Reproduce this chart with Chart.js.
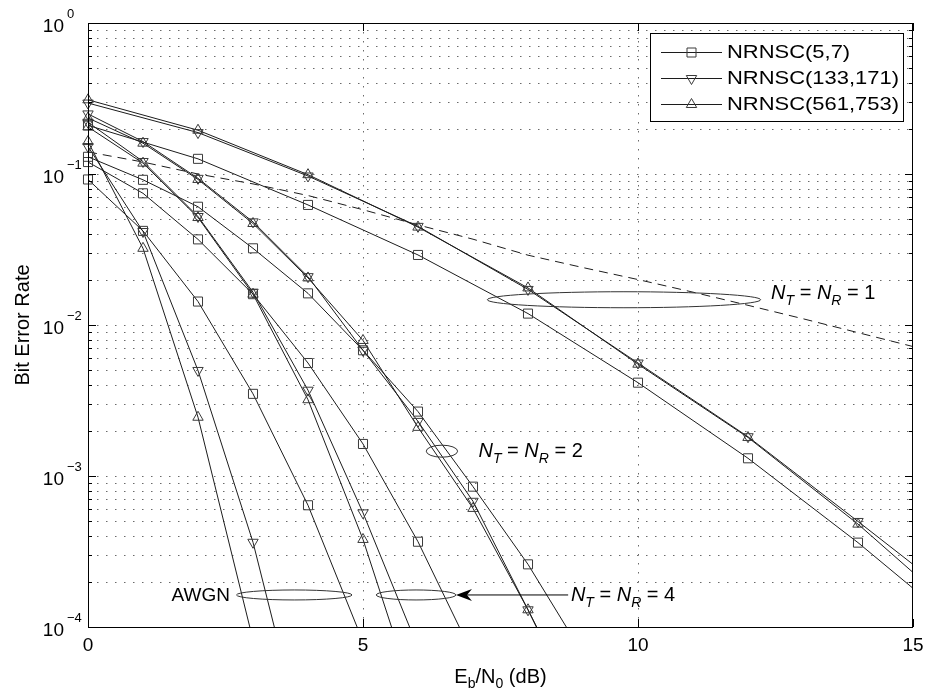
<!DOCTYPE html>
<html>
<head>
<meta charset="utf-8">
<title>BER vs Eb/N0</title>
<script src="https://cdn.jsdelivr.net/npm/chart.js@4.4.1/dist/chart.umd.min.js"></script>
<style>
  html, body { margin: 0; padding: 0; background: #ffffff; }
  canvas { display: block; }
</style>
</head>
<body>
<canvas id="berChart" width="930" height="696"></canvas>
<script>
// Eb/N0 points (dB)
const snrEven = [0, 2, 4, 6, 8, 10, 12, 14, 16];
const snrStep = [0, 1, 2, 3, 4, 5, 6, 7, 8, 9];
const snrDash = [0, 1, 2, 3, 4, 5, 6, 7, 8, 9, 10, 11, 12, 13, 14, 15];

const codeNames = ["NRNSC(5,7)", "NRNSC(133,171)", "NRNSC(561,753)"];

// NT = NR = 1
const ber1_57 = [0.21, 0.126, 0.0624, 0.0291, 0.0119, 0.00415, 0.00131, 0.000362, 0.00009];
const ber1_133 = [0.295, 0.188, 0.097, 0.045, 0.0172, 0.0056, 0.00182, 0.0005, 0.000135];
const ber1_561 = [0.31, 0.195, 0.099, 0.0445, 0.0176, 0.0055, 0.0018, 0.00048, 0.00011];

// NT = NR = 2
const ber2_57 = [0.13, 0.0915, 0.0607, 0.0322, 0.0162, 0.0068, 0.00267, 0.00085, 0.00026, 0.000066];
const ber2_133 = [0.25, 0.164, 0.0936, 0.0482, 0.0209, 0.0068, 0.0023, 0.00068, 0.00013, 0.000023];
const ber2_561 = [0.235, 0.16, 0.092, 0.047, 0.0205, 0.0079, 0.0021, 0.00061, 0.00013, 0.000025];

// NT = NR = 4
const ber4_57 = [0.12, 0.0745, 0.0369, 0.016, 0.0056, 0.00163, 0.000367, 0.000065];
const ber4_133 = [0.22, 0.121, 0.0523, 0.0165, 0.0037, 0.00057, 0.000073];
const ber4_561 = [0.205, 0.118, 0.0515, 0.016, 0.0032, 0.00038, 0.000029];

// AWGN
const berAwgn_57 = [0.092, 0.042, 0.0143, 0.0035, 0.00064, 0.00008];
const berAwgn_133 = [0.152, 0.0416, 0.005, 0.000364, 0.000013];
const berAwgn_561 = [0.164, 0.0322, 0.00245, 0.000082];

// uncoded reference (dashed)
const berUncoded = [0.14, 0.12, 0.1, 0.086, 0.072, 0.058, 0.046, 0.037, 0.029, 0.024, 0.02, 0.0165, 0.0135, 0.011, 0.0089, 0.0072];

const yExponents = [0, -1, -2, -3, -4];
const xTicks = [0, 5, 10, 15];

const FONT = '"Liberation Sans", Arial, Helvetica, sans-serif';
const lineInk = "#1c1c1c";
const markInk = "#3a3a3a";

function curve(xs, ys, marker) {
  return {
    data: ys.map((y, i) => ({ x: xs[i], y: y })),
    showLine: true,
    borderColor: lineInk,
    borderWidth: 1,
    pointStyle: marker === "square" ? "rect" : "triangle",
    pointRotation: marker === "down" ? 180 : 0,
    pointRadius: marker === "square" ? 6.4 : 6,
    pointBorderColor: markInk,
    pointBorderWidth: 1,
    pointBackgroundColor: "rgba(0,0,0,0)",
    clip: { left: 10, top: 10, right: 0, bottom: 0 },
  };
}

function setFont(ctx, size, italic) {
  ctx.font = (italic ? "italic " : "") + size + "px " + FONT;
}

// pieces: [text, size, italic, dy]
function drawRuns(ctx, parts, x, y, align) {
  let total = 0;
  parts.forEach((p) => {
    setFont(ctx, p[1], p[2]);
    total += ctx.measureText(p[0]).width;
  });
  let cx = align === "center" ? x - total / 2 : align === "right" ? x - total : x;
  ctx.textAlign = "left";
  ctx.textBaseline = "alphabetic";
  parts.forEach((p) => {
    setFont(ctx, p[1], p[2]);
    ctx.fillText(p[0], cx, y + (p[3] || 0));
    cx += ctx.measureText(p[0]).width;
  });
}

function ntLabel(n) {
  return [
    ["N", 20, true, 0],
    ["T", 14, true, 6],
    [" = ", 20, false, 0],
    ["N", 20, true, 0],
    ["R", 14, true, 6],
    [" = " + n, 20, false, 0],
  ];
}

function drawMarker(ctx, shape, x, y) {
  ctx.beginPath();
  if (shape === "square") {
    ctx.rect(x - 4.5, y - 4.5, 9, 9);
  } else {
    const s = shape === "up" ? 1 : -1;
    ctx.moveTo(x, y - 6 * s);
    ctx.lineTo(x + 5.2, y + 3 * s);
    ctx.lineTo(x - 5.2, y + 3 * s);
    ctx.closePath();
  }
  ctx.stroke();
}

const axesPlugin = {
  id: "matlabAxes",
  beforeDatasetsDraw(chart) {
    const { ctx, chartArea: a, scales } = chart;
    const xs = scales.x, ys = scales.y;
    ctx.save();
    ctx.strokeStyle = "#6a6a6a";
    ctx.lineWidth = 1;
    ctx.setLineDash([1.5, 7.5]);
    // horizontal grid at every decade and its minor steps
    for (let e = -4; e < 0; e++) {
      for (let m = 1; m <= 9; m++) {
        const v = m * Math.pow(10, e);
        if (e === -4 && m === 1) continue;
        const py = Math.round(ys.getPixelForValue(v)) + 0.5;
        ctx.beginPath();
        ctx.moveTo(a.left, py);
        ctx.lineTo(a.right, py);
        ctx.stroke();
      }
    }
    [5, 10].forEach((t) => {
      const px = Math.round(xs.getPixelForValue(t)) + 0.5;
      ctx.beginPath();
      ctx.moveTo(px, a.top);
      ctx.lineTo(px, a.bottom);
      ctx.stroke();
    });
    ctx.restore();
  },
  afterDatasetsDraw(chart) {
    const { ctx, chartArea: a, scales } = chart;
    const xs = scales.x, ys = scales.y;
    ctx.save();

    // box + inward ticks
    ctx.strokeStyle = "#000";
    ctx.lineWidth = 1;
    ctx.setLineDash([]);
    ctx.strokeRect(a.left + 0.5, a.top + 0.5, a.right - a.left - 1, a.bottom - a.top);
    for (let e = -4; e <= 0; e++) {
      for (let m = 1; m <= 9; m++) {
        const v = m * Math.pow(10, e);
        if (v > 1) break;
        const py = Math.round(ys.getPixelForValue(v)) + 0.5;
        const len = m === 1 ? 8 : 4;
        ctx.beginPath();
        ctx.moveTo(a.left, py);
        ctx.lineTo(a.left + len, py);
        ctx.moveTo(a.right, py);
        ctx.lineTo(a.right - len, py);
        ctx.stroke();
      }
    }
    xTicks.forEach((t) => {
      const px = Math.round(xs.getPixelForValue(t)) + 0.5;
      ctx.beginPath();
      ctx.moveTo(px, a.bottom);
      ctx.lineTo(px, a.bottom - 8);
      ctx.moveTo(px, a.top);
      ctx.lineTo(px, a.top + 8);
      ctx.stroke();
    });

    // tick labels
    ctx.fillStyle = "#000";
    yExponents.forEach((e) => {
      const py = ys.getPixelForValue(Math.pow(10, e));
      setFont(ctx, 19, false);
      ctx.textAlign = "right";
      ctx.textBaseline = "alphabetic";
      ctx.fillText("10", 64, py + 9);
      setFont(ctx, 13, false);
      ctx.textAlign = "left";
      ctx.fillText(e === 0 ? "0" : "\u2212" + Math.abs(e), 67, py - 5);
    });
    setFont(ctx, 19, false);
    ctx.textAlign = "center";
    ctx.textBaseline = "middle";
    xTicks.forEach((t) => {
      ctx.fillText(String(t), xs.getPixelForValue(t), 646);
    });

    // axis titles
    drawRuns(ctx, [
      ["E", 20, false, 0],
      ["b", 14, false, 5],
      ["/N", 20, false, 0],
      ["0", 14, false, 5],
      [" (dB)", 20, false, 0],
    ], (a.left + a.right) / 2, 683, "center");
    ctx.save();
    ctx.translate(23, (a.top + a.bottom) / 2);
    ctx.rotate(-Math.PI / 2);
    setFont(ctx, 20, false);
    ctx.textAlign = "center";
    ctx.textBaseline = "middle";
    ctx.fillText("Bit Error Rate", 0, 0);
    ctx.restore();

    // group rings
    const rings = [
      [7.26, 12.23, 0.0147, 8],
      [6.15, 6.72, 0.00146, 6],
      [5.24, 6.69, 0.000163, 5],
      [2.7, 4.8, 0.000163, 5],
    ];
    ctx.strokeStyle = "#333";
    rings.forEach((r) => {
      const x0 = xs.getPixelForValue(r[0]), x1 = xs.getPixelForValue(r[1]);
      const cy = ys.getPixelForValue(r[2]);
      ctx.beginPath();
      ctx.ellipse((x0 + x1) / 2, cy, (x1 - x0) / 2, r[3], 0, 0, Math.PI * 2);
      ctx.stroke();
    });

    // arrow to the NT = NR = 4 ring
    const ay = ys.getPixelForValue(0.000163);
    const tip = xs.getPixelForValue(6.69);
    ctx.strokeStyle = "#000";
    ctx.beginPath();
    ctx.moveTo(xs.getPixelForValue(8.73), ay);
    ctx.lineTo(tip + 10, ay);
    ctx.stroke();
    ctx.fillStyle = "#000";
    ctx.beginPath();
    ctx.moveTo(tip, ay);
    ctx.lineTo(tip + 16, ay - 6);
    ctx.lineTo(tip + 11, ay);
    ctx.lineTo(tip + 16, ay + 6);
    ctx.closePath();
    ctx.fill();

    // annotation texts
    ctx.fillStyle = "#000";
    drawRuns(ctx, ntLabel(1), xs.getPixelForValue(12.42), ys.getPixelForValue(0.0148), "left");
    drawRuns(ctx, ntLabel(2), xs.getPixelForValue(7.1), ys.getPixelForValue(0.00133), "left");
    drawRuns(ctx, ntLabel(4), xs.getPixelForValue(8.78), ys.getPixelForValue(0.000148), "left");
    drawRuns(ctx, [["AWGN", 19, false, 0]], xs.getPixelForValue(2.58), ys.getPixelForValue(0.000148), "right");

    // legend
    const box = { l: 650, t: 33, r: 903, b: 121 };
    ctx.fillStyle = "#fff";
    ctx.fillRect(box.l, box.t, box.r - box.l, box.b - box.t);
    ctx.strokeStyle = "#000";
    ctx.strokeRect(box.l + 0.5, box.t + 0.5, box.r - box.l, box.b - box.t);
    const shapes = ["square", "down", "up"];
    setFont(ctx, 19, false);
    const widest = ctx.measureText(codeNames[1]).width;
    const stretch = Math.min(1.35, (899 - 727) / widest);
    codeNames.forEach((name, i) => {
      const ry = 52.5 + i * 26;
      ctx.strokeStyle = lineInk;
      ctx.beginPath();
      ctx.moveTo(661, ry);
      ctx.lineTo(722, ry);
      ctx.stroke();
      ctx.strokeStyle = markInk;
      drawMarker(ctx, shapes[i], 691.5, ry);
      ctx.save();
      ctx.translate(727, ry);
      ctx.scale(stretch, 1);
      ctx.fillStyle = "#000";
      setFont(ctx, 19, false);
      ctx.textAlign = "left";
      ctx.textBaseline = "middle";
      ctx.fillText(name, 0, 0);
      ctx.restore();
    });

    ctx.restore();
  },
};

const berCtx = document.getElementById("berChart").getContext("2d");

const datasets = [
  curve(snrEven, ber1_57, "square"),
  curve(snrEven, ber1_133, "down"),
  curve(snrEven, ber1_561, "up"),
  curve(snrStep, ber2_57, "square"),
  curve(snrStep, ber2_133, "down"),
  curve(snrStep, ber2_561, "up"),
  curve(snrStep, ber4_57, "square"),
  curve(snrStep, ber4_133, "down"),
  curve(snrStep, ber4_561, "up"),
  curve(snrStep, berAwgn_57, "square"),
  curve(snrStep, berAwgn_133, "down"),
  curve(snrStep, berAwgn_561, "up"),
  {
    data: berUncoded.map((y, i) => ({ x: snrDash[i], y: y })),
    showLine: true,
    borderColor: lineInk,
    borderWidth: 1,
    borderDash: [9, 6],
    pointRadius: 0,
  },
];

new Chart(berCtx, {
  type: "scatter",
  data: { datasets: datasets },
  options: {
    responsive: false,
    animation: false,
    devicePixelRatio: 1,
    events: [],
    layout: { padding: { left: 88, top: 23, right: 17, bottom: 69 } },
    plugins: {
      legend: { display: false },
      tooltip: { enabled: false },
    },
    scales: {
      x: { type: "linear", min: 0, max: 15, display: false },
      y: { type: "logarithmic", min: 1e-4, max: 1, display: false },
    },
  },
  plugins: [axesPlugin],
});
</script>
</body>
</html>
